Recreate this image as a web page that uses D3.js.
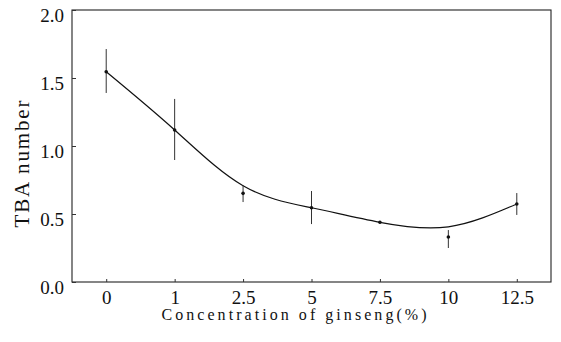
<!DOCTYPE html>
<html><head><meta charset="utf-8">
<script src="https://cdn.jsdelivr.net/npm/d3@7"></script>
<style>body{margin:0;background:#fff;font-family:'Liberation Serif'}svg{display:block}</style>
</head><body><svg id="c" width="561" height="342" style="font-family:'Liberation Serif'"></svg>
<script>
const categories = ["0","1","2.5","5","7.5","10","12.5"];
const means  = [1.546, 1.118, 0.652, 0.546, 0.439, 0.331, 0.574];
const errLow = [1.390, 0.897, 0.588, 0.426, 0.430, 0.250, 0.493];
const errHigh= [1.713, 1.346, 0.713, 0.669, 0.448, 0.382, 0.654];
const fitCurve = [1.546, 1.118, 0.708, 0.546, 0.439, 0.406, 0.574];
const yTicks = [0, 0.5, 1.0, 1.5, 2.0];

const svg = d3.select("#c");
const L = 72, R = 551, T = 10, B = 282;
const x = d3.scalePoint().domain(categories).range([L, R]).padding(0.5);
const y = d3.scaleLinear().domain([0, 2]).range([B, T]);

// frame
svg.append("rect").attr("x", L).attr("y", T).attr("width", R - L).attr("height", B - T)
  .attr("fill", "none").attr("stroke", "#222").attr("stroke-width", 1.1);

// y axis
const ya = svg.append("g").attr("transform", `translate(${L},0)`)
  .call(d3.axisRight(y).tickValues(yTicks).tickFormat(d3.format(".1f")).tickSize(4).tickPadding(0));
ya.attr("font-family", null).attr("font-size", null);
ya.select(".domain").remove();
ya.selectAll("line").attr("stroke", "#333");
ya.selectAll("text").attr("x", -8).attr("dy", "0.62em").attr("text-anchor", "end")
  .style("font-family", "'Liberation Serif'").style("font-size", "19px").attr("fill", "#111");

// x axis
const xa = svg.append("g").attr("transform", `translate(0,${B})`)
  .call(d3.axisTop(x).tickSize(3).tickPadding(0));
xa.attr("font-family", null).attr("font-size", null);
xa.select(".domain").remove();
xa.selectAll("line").attr("stroke", "#333");
xa.selectAll("text").attr("y", 22).attr("dy", 0)
  .style("font-family", "'Liberation Serif'").style("font-size", "19px").attr("fill", "#111");

// fitted curve
const line = d3.line().x((d, i) => x(categories[i])).y(d => y(d)).curve(d3.curveNatural);
svg.append("path").datum(fitCurve).attr("d", line).attr("fill", "none")
  .attr("stroke", "#111").attr("stroke-width", 1.2);

// error bars
svg.append("g").selectAll("line").data(categories).join("line")
  .attr("x1", d => x(d)).attr("x2", d => x(d))
  .attr("y1", (d, i) => y(errLow[i])).attr("y2", (d, i) => y(errHigh[i]))
  .attr("stroke", "#333").attr("stroke-width", 1);

// points
svg.append("g").selectAll("circle").data(categories).join("circle")
  .attr("cx", d => x(d)).attr("cy", (d, i) => y(means[i])).attr("r", 1.8).attr("fill", "#111");

// axis titles
svg.append("text").attr("x", 294).attr("y", 320).attr("text-anchor", "middle")
  .attr("textLength", 265).attr("lengthAdjust", "spacing")
  .style("font-family", "'Liberation Serif'").style("font-size", "16px").attr("fill", "#111")
  .text("Concentration of ginseng(%)");
svg.append("text").attr("transform", "translate(29,164) rotate(-90)").attr("text-anchor", "middle")
  .attr("textLength", 127).attr("lengthAdjust", "spacing")
  .style("font-family", "'Liberation Serif'").style("font-size", "21px").attr("fill", "#111")
  .text("TBA number");
</script></body></html>
